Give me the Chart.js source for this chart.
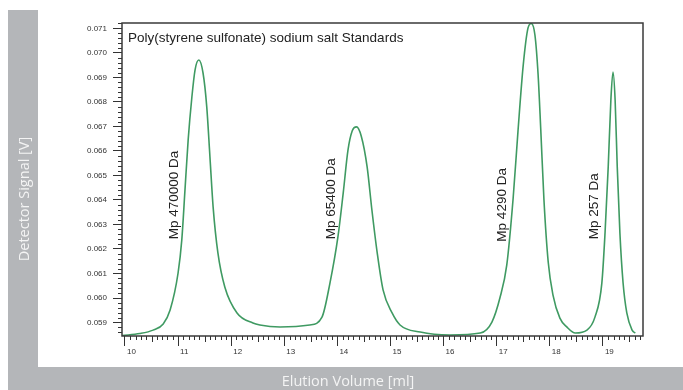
<!DOCTYPE html>
<html>
<head>
<meta charset="utf-8">
<script src="https://cdn.jsdelivr.net/npm/chart.js@4"></script>
<style>
  html, body { margin: 0; padding: 0; background: #fff; }
  #wrap { width: 683px; height: 390px; position: relative; }
</style>
</head>
<body>
<div id="wrap"><canvas id="gpcChart"></canvas></div>
<script>
// elution volume [ml] and detector signal [V]
const elutionMl = [9.95, 10.28, 10.53, 10.72, 10.85, 11.00, 11.07, 11.13, 11.19, 11.26,
    11.32, 11.39, 11.47, 11.54, 11.60, 11.66, 11.75, 11.88, 12.11, 12.41,
    12.54, 12.92, 13.48, 13.71, 13.86, 14.01, 14.11, 14.20, 14.28, 14.36,
    14.45, 14.56, 14.65, 14.75, 14.86, 15.03, 15.18, 15.56, 16.12, 16.69,
    16.91, 17.06, 17.19, 17.31, 17.40, 17.50, 17.59, 17.65, 17.72, 17.78,
    17.83, 17.89, 17.97, 18.06, 18.19, 18.32, 18.48, 18.70, 18.85, 18.98,
    19.04, 19.10, 19.15, 19.19, 19.23, 19.27, 19.32, 19.38, 19.45, 19.55,
    19.61];
const signalV = [0.05847, 0.05855, 0.05869, 0.05894, 0.05951, 0.06102, 0.06237, 0.06441, 0.06645, 0.06820,
    0.06931, 0.06971, 0.06918, 0.06780, 0.06576, 0.06371, 0.06184, 0.06045, 0.05939, 0.05898,
    0.05890, 0.05882, 0.05890, 0.05922, 0.06061, 0.06249, 0.06429, 0.06604, 0.06682, 0.06698,
    0.06660, 0.06535, 0.06359, 0.06184, 0.06033, 0.05939, 0.05890, 0.05861, 0.05849, 0.05857,
    0.05902, 0.06000, 0.06135, 0.06408, 0.06678, 0.06951, 0.07102, 0.07120, 0.07073, 0.06910,
    0.06686, 0.06400, 0.06147, 0.06012, 0.05918, 0.05882, 0.05857, 0.05869, 0.05922, 0.06061,
    0.06265, 0.06535, 0.06808, 0.06922, 0.06808, 0.06535, 0.06265, 0.06061, 0.05939, 0.05869,
    0.05857];

// peak annotations: text, elution volume, signal where the text starts
const peakNames = ["Mp 470000 Da", "Mp 65400 Da", "Mp 4290 Da", "Mp 257 Da"];
const peakNameMl = [10.92, 13.88, 17.11, 18.84];
const peakNameV = [0.0624, 0.0624, 0.0623, 0.0624];

const plotTitle = "Poly(styrene sulfonate) sodium salt Standards";
const xTitle = "Elution Volume [ml]";
const yTitle = "Detector Signal [V]";

const points = elutionMl.map((v, i) => ({ x: v, y: signalV[i] }));

// grey frame with the axis titles, drawn behind everything
const frame = {
    id: 'frame',
    beforeDraw(chart) {
        const ctx = chart.ctx;
        ctx.save();
        ctx.fillStyle = '#b4b6b9';
        ctx.fillRect(8, 10, 30, 380);
        ctx.fillRect(8, 367, 675, 23);
        ctx.fillStyle = '#f4f4f4';
        ctx.font = '14.5px "Open Sans"';
        ctx.textAlign = 'center';
        ctx.textBaseline = 'alphabetic';
        ctx.fillText(xTitle, 348, 386);
        ctx.translate(29, 199);
        ctx.rotate(-Math.PI / 2);
        ctx.fillText(yTitle, 0, 0);
        ctx.restore();
    }
};

// minor ticks, plot box, title and peak names
const extras = {
    id: 'extras',
    afterDraw(chart) {
        const ctx = chart.ctx;
        const xs = chart.scales.x, ys = chart.scales.y;
        const a = chart.chartArea;
        ctx.save();
        ctx.strokeStyle = '#333';
        ctx.lineWidth = 1;
        ctx.beginPath();
        for (let i = Math.ceil(xs.min * 10); i <= xs.max * 10; i++) {
            if (i % 10 === 0) continue;
            const px = Math.round(xs.getPixelForValue(i / 10)) + 0.5;
            const len = i % 5 === 0 ? 6 : 4;
            ctx.moveTo(px, a.bottom);
            ctx.lineTo(px, a.bottom + len);
        }
        for (let i = Math.ceil(ys.min * 5000); i <= ys.max * 5000; i++) {
            if (i % 5 === 0) continue;
            const py = Math.round(ys.getPixelForValue(i / 5000)) + 0.5;
            ctx.moveTo(a.left - 4, py);
            ctx.lineTo(a.left, py);
        }
        ctx.stroke();

        ctx.strokeStyle = '#3a3a3a';
        ctx.lineWidth = 1.5;
        ctx.strokeRect(a.left, a.top, a.right - a.left, a.bottom - a.top);

        ctx.fillStyle = '#222';
        ctx.font = '13.5px Arial, "Liberation Sans"';
        ctx.textBaseline = 'alphabetic';
        ctx.textAlign = 'left';
        ctx.fillText(plotTitle, a.left + 6, a.top + 19);

        ctx.textBaseline = 'middle';
        peakNames.forEach((t, i) => {
            ctx.save();
            ctx.translate(xs.getPixelForValue(peakNameMl[i]), ys.getPixelForValue(peakNameV[i]));
            ctx.rotate(-Math.PI / 2);
            ctx.fillText(t, 0, 0);
            ctx.restore();
        });
        ctx.restore();
    }
};

new Chart("gpcChart", {
    type: "line",
    data: {
        datasets: [{
            data: points,
            borderColor: '#3f9a62',
            borderWidth: 1.6,
            pointRadius: 0,
            cubicInterpolationMode: 'monotone',
            fill: false
        }]
    },
    options: {
        responsive: true,
        maintainAspectRatio: false,
        animation: false,
        layout: { padding: { left: 0, top: 23, right: 40, bottom: 0 } },
        plugins: {
            legend: { display: false },
            tooltip: { enabled: false }
        },
        scales: {
            x: {
                type: 'linear',
                min: 9.944,
                max: 19.755,
                afterFit: (s) => { s.height = 54; },
                border: { display: false },
                grid: { drawOnChartArea: false, tickLength: 10, color: '#333' },
                ticks: {
                    stepSize: 1,
                    includeBounds: false,
                    autoSkip: false,
                    maxRotation: 0,
                    align: 'start',
                    labelOffset: 2,
                    padding: 1,
                    color: '#333',
                    font: { size: 8, family: 'Arial' },
                    callback: (v) => v.toFixed(0)
                }
            },
            y: {
                min: 0.05845,
                max: 0.07122,
                afterFit: (s) => { s.width = 122; },
                border: { display: false },
                grid: { drawOnChartArea: false, tickLength: 9, color: '#333' },
                ticks: {
                    stepSize: 0.001,
                    includeBounds: false,
                    autoSkip: false,
                    padding: 6,
                    color: '#333',
                    font: { size: 8, family: 'Arial' },
                    callback: (v) => v.toFixed(3)
                }
            }
        }
    },
    plugins: [frame, extras]
});
</script>
</body>
</html>
